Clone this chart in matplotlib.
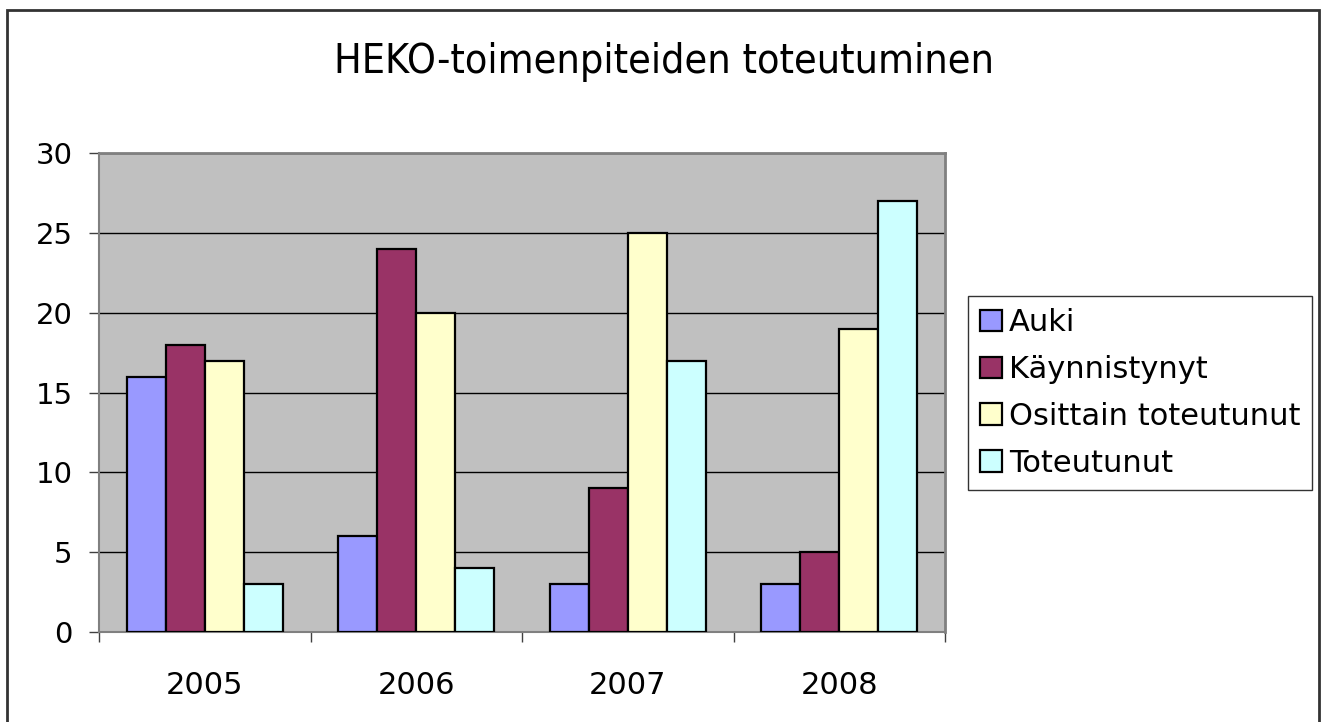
import numpy as np
import matplotlib
matplotlib.use("Agg")
from matplotlib import pyplot as plt
from matplotlib.patches import Rectangle

years = ["2005", "2006", "2007", "2008"]
series = ["Auki", "Käynnistynyt", "Osittain toteutunut", "Toteutunut"]
auki = [16, 6, 3, 3]
kaynnistynyt = [18, 24, 9, 5]
osittain = [17, 20, 25, 19]
toteutunut = [3, 4, 17, 27]
colors = ["#9999FF", "#993366", "#FFFFCC", "#CCFFFF"]

plt.rcParams['font.family'] = ['DejaVu Sans']

fig = plt.figure(figsize=(13.21, 7.22), dpi=100)
ax = fig.add_axes([99/1321, 1-632/722, 846/1321, 479/722])
ax.set_facecolor("#C0C0C0")

x = np.arange(len(years))
w = 0.184
for i, (name, vals) in enumerate(zip(series, [auki, kaynnistynyt, osittain, toteutunut])):
    ax.bar(x + (i - 1.5)*w, vals, w, color=colors[i], edgecolor="black",
           linewidth=1.6, label=name, zorder=3)

ax.set_xlim(-0.5, 3.5)
ax.set_ylim(0, 30)
ax.set_yticks(range(0, 31, 5))
ax.yaxis.grid(True, color="black", linewidth=1, zorder=1)
ax.set_axisbelow(True)

# year labels centred, ticks between the groups
ax.set_xticks(x)
ax.set_xticklabels(years)
ax.set_xticks(np.arange(-0.5, 4, 1), minor=True)
ax.tick_params(axis='x', which='major', length=0, pad=28, labelsize=22)
ax.tick_params(axis='x', which='minor', length=7, width=1, color="#404040")
ax.tick_params(axis='y', length=7, width=1, color="#404040", pad=12, labelsize=21)

for s in ["top", "right"]:
    ax.spines[s].set_color("#808080")
    ax.spines[s].set_linewidth(2)
for s in ["left", "bottom"]:
    ax.spines[s].set_color("#808080")
    ax.spines[s].set_linewidth(1.5)

fig.text(664/1321, 1-62/722, "HEKO-toimenpiteiden toteutuminen", ha="center",
         va="center", fontsize=29.5, fontstretch="condensed")

leg = ax.legend(loc="center left", bbox_to_anchor=(968/1321, 1-490/722, 344/1321, 194/722),
                bbox_transform=fig.transFigure, mode="expand", fontsize=22,
                fancybox=False, frameon=True, handlelength=0.7, handleheight=0.7,
                handletextpad=0.25, borderpad=0.4, labelspacing=0.58, borderaxespad=0)
leg.get_frame().set_edgecolor("black")
leg.get_frame().set_linewidth(1)

# outer chart border
fig.patches.append(Rectangle((7/1321, -0.01), 1312/1321, 1-10/722+0.01,
                             transform=fig.transFigure, fill=False,
                             edgecolor="#333333", linewidth=2))

fig.savefig("out.png", dpi=100)
